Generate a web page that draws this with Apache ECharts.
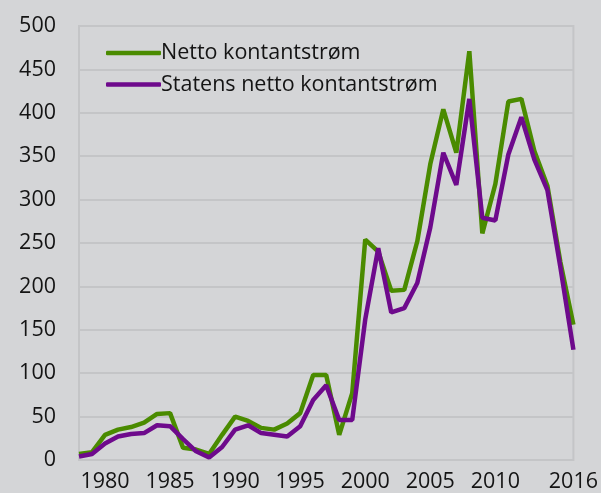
<!DOCTYPE html>
<html>
<head>
<meta charset="utf-8">
<script src="https://cdn.jsdelivr.net/npm/echarts@6/dist/echarts.min.js"></script>
<style>
  html, body { margin: 0; padding: 0; background: #d4d5d7; }
  #chart { width: 601px; height: 493px; }
</style>
</head>
<body>
<div id="chart"></div>
<script>
// år 1978-2016
const years = [];
for (let y = 1978; y <= 2016; y++) years.push(String(y));

const nettoKontantstrom = [7, 9, 29, 35, 38, 43, 53, 54, 14, 12, 7, 29, 50, 45, 37, 35, 42, 54,
  98, 98, 29, 77, 254, 240, 195, 196, 252, 341, 404, 354, 471, 261, 318, 413, 416, 356, 316, 228, 156];
const statensNetto = [4, 7, 19, 27, 30, 31, 40, 39, 24, 10, 3, 15, 35, 40, 31, 29, 27, 39,
  69, 86, 46, 46, 162, 244, 170, 175, 204, 268, 354, 317, 416, 279, 276, 352, 395, 346, 311, 222, 127];

const shownYears = ['1980', '1985', '1990', '1995', '2000', '2005', '2010', '2016'];

const myChart = echarts.init(document.getElementById('chart'));

const textColor = '#141414';
const gridColor = '#c4c5c7';

const option = {
  backgroundColor: '#d4d5d7',
  textStyle: { fontFamily: 'Open Sans' },
  grid: {
    left: 79, right: 24, top: 26, bottom: 33,
    show: true, borderColor: gridColor, borderWidth: 2
  },
  legend: {
    orient: 'vertical',
    left: 101, top: 37,
    itemWidth: 55, itemHeight: 4.5, itemGap: 9.5,
    icon: 'roundRect',
    textStyle: { fontSize: 21.5, lineHeight: 22, color: textColor, fontFamily: 'Open Sans', padding: [0, 0, 0, -5] },
    data: ['Netto kontantstrøm', 'Statens netto kontantstrøm']
  },
  xAxis: {
    type: 'category',
    data: years,
    boundaryGap: false,
    axisLine: { show: false },
    axisTick: { show: false },
    axisLabel: {
      color: textColor, fontSize: 21.5, margin: 11,
      interval: (i, v) => shownYears.includes(v),
      showMaxLabel: true
    },
    splitLine: { show: false }
  },
  yAxis: {
    type: 'value',
    min: 0, max: 500, interval: 50,
    axisLine: { show: false },
    axisTick: { show: false },
    axisLabel: { color: textColor, fontSize: 21.5, margin: 23 },
    splitLine: { lineStyle: { color: gridColor, width: 2 } }
  },
  series: [
    {
      name: 'Netto kontantstrøm',
      type: 'line',
      data: nettoKontantstrom,
      symbol: 'none',
      color: '#4a8b00',
      lineStyle: { width: 4.5, color: '#4a8b00' }
    },
    {
      name: 'Statens netto kontantstrøm',
      type: 'line',
      data: statensNetto,
      symbol: 'none',
      color: '#6e0a8c',
      lineStyle: { width: 4.5, color: '#6e0a8c' }
    }
  ]
};

myChart.setOption(option);
</script>
</body>
</html>
